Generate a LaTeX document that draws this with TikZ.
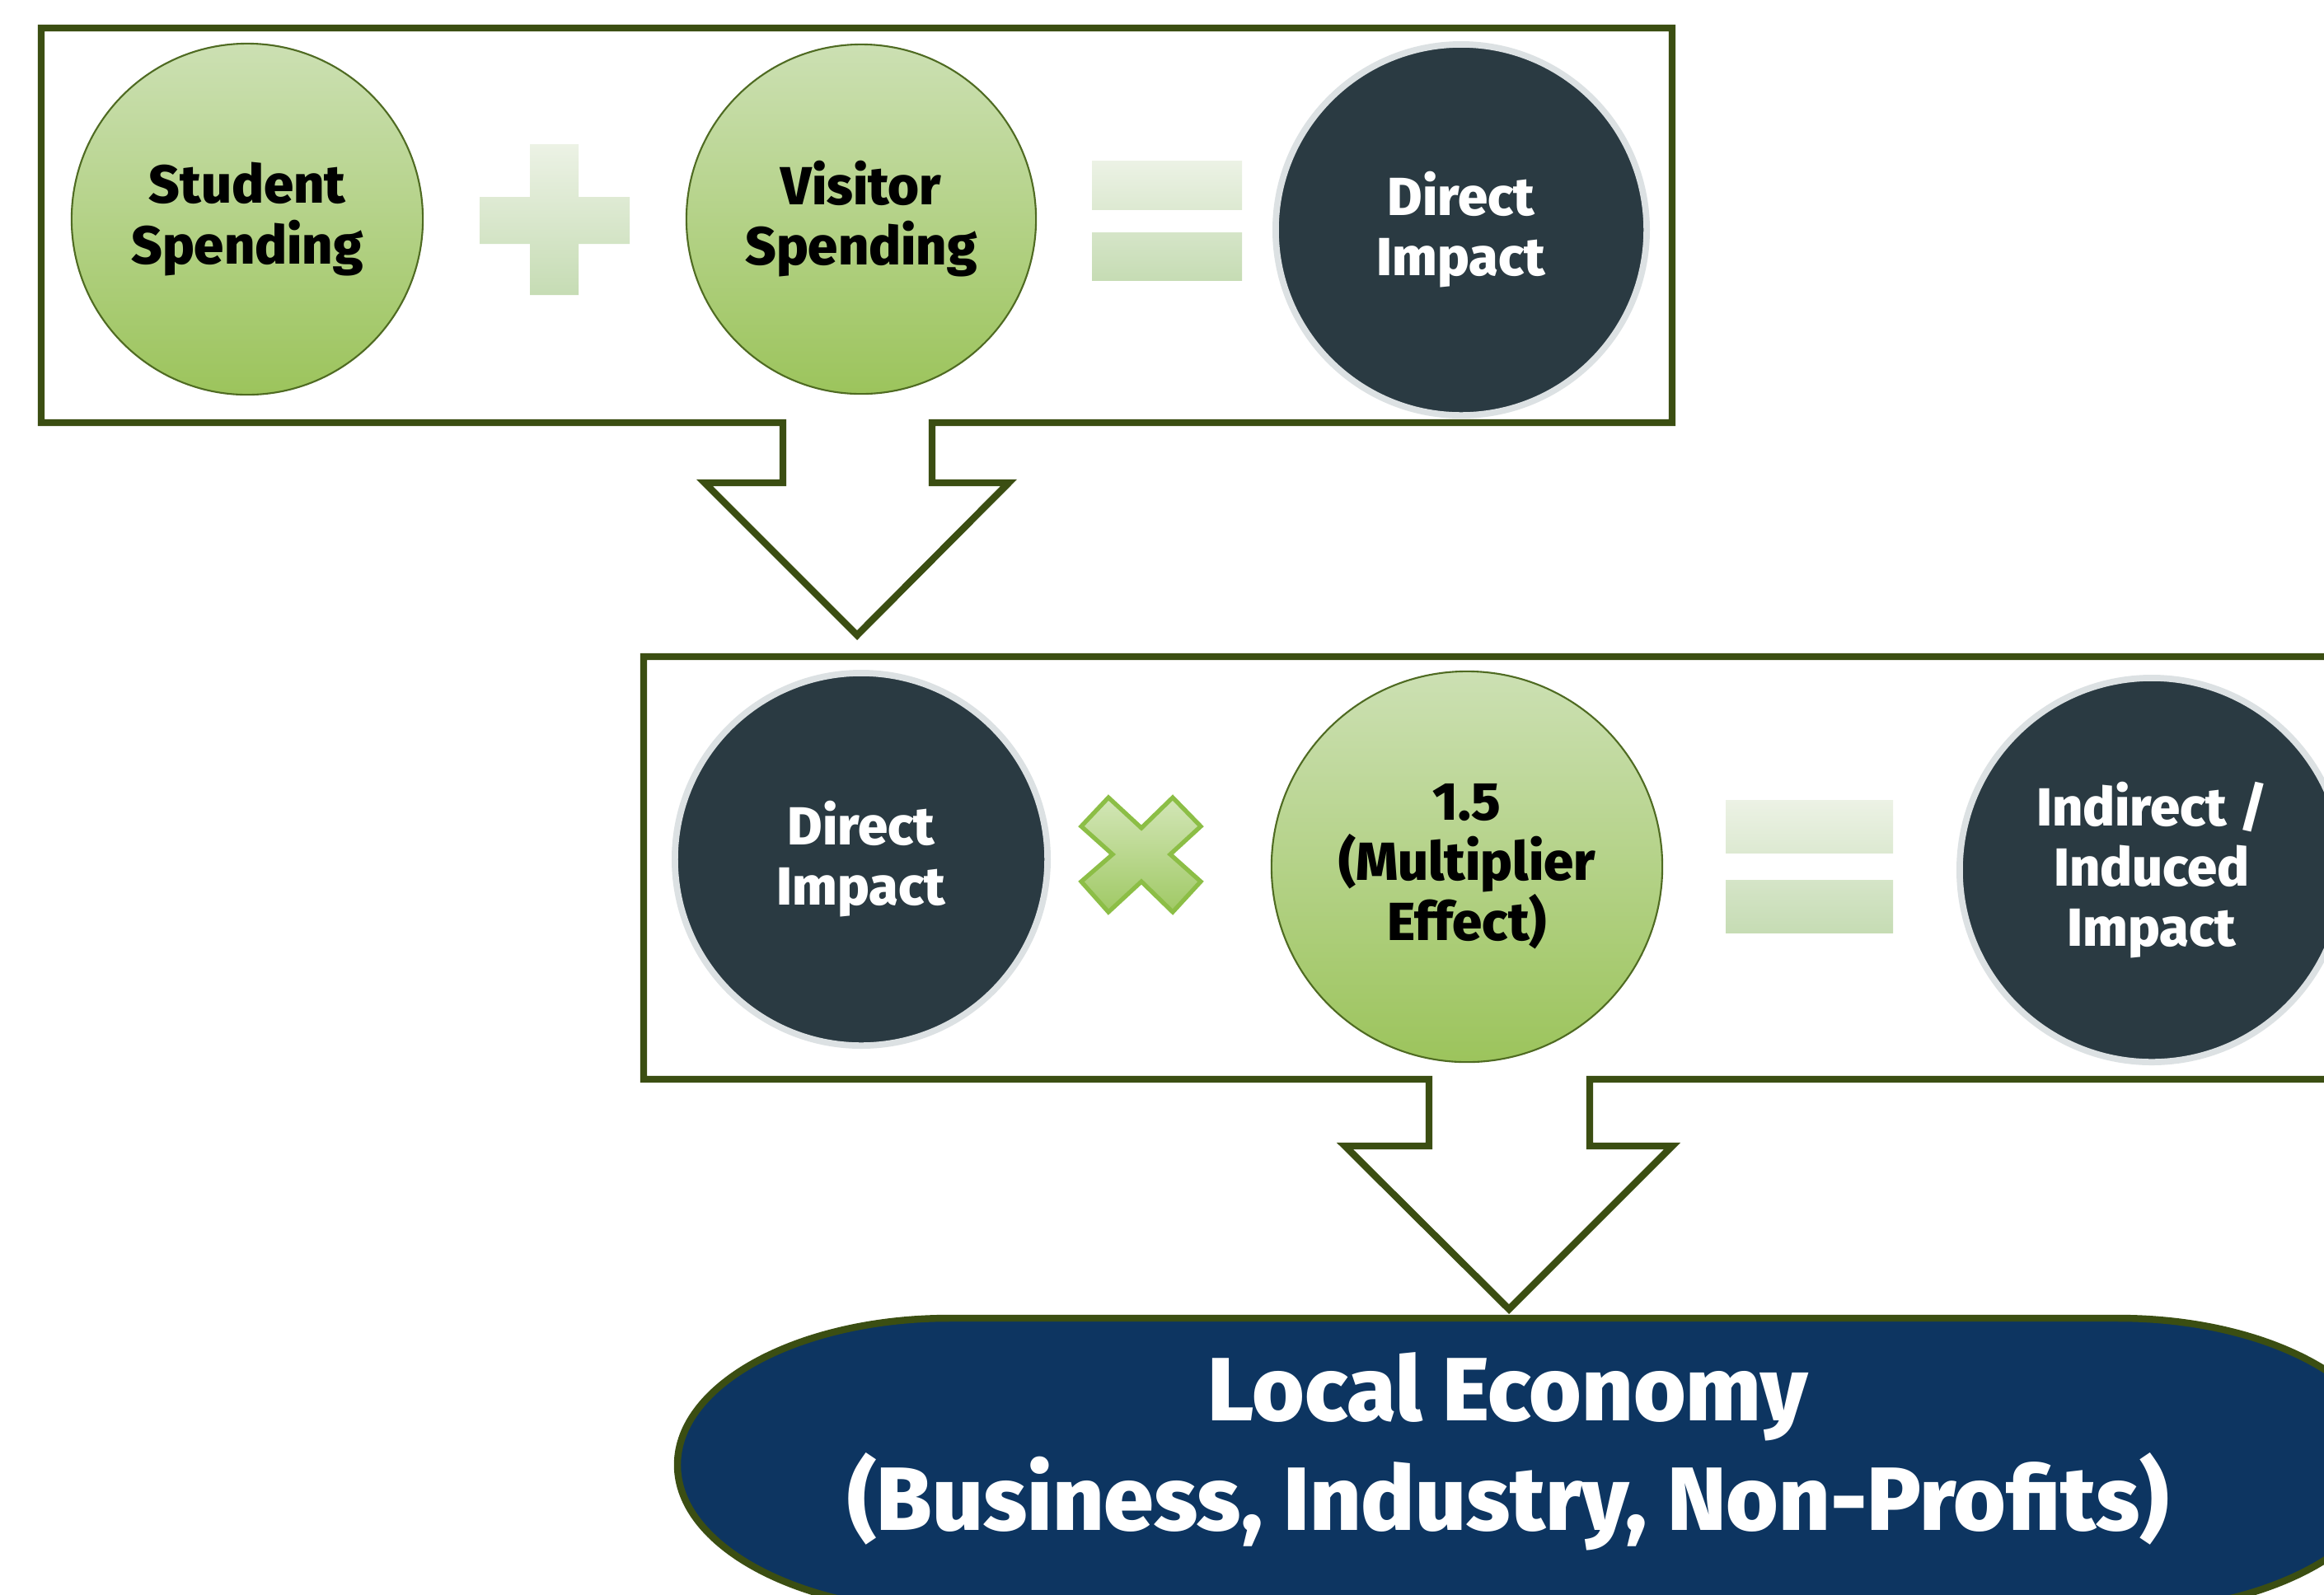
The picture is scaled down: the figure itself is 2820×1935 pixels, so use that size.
\documentclass[tikz,border=0pt]{standalone}
\usepackage{fontspec}
\setmainfont{Fira Sans}[BoldFont={Fira Sans ExtraBold}]
\definecolor{boxc}{HTML}{3B4E12}
\definecolor{gtop}{HTML}{CCE0B3}
\definecolor{gbot}{HTML}{9CC45C}
\definecolor{gline}{HTML}{4F6B22}
\definecolor{darkc}{HTML}{2A3A42}
\definecolor{haloc}{HTML}{DCE1E3}
\definecolor{ptop}{HTML}{ECF2E5}
\definecolor{pbot}{HTML}{C6DCB4}
\definecolor{xtop}{HTML}{D3E6B7}
\definecolor{xbot}{HTML}{A0C965}
\definecolor{xline}{HTML}{8CBE46}
\definecolor{navy}{HTML}{0D3561}
\tikzset{
  boxline/.style={draw=boxc, line width=2.4pt, line join=miter},
  greencirc/.style={circle, inner sep=0pt, minimum size=#1, top color=gtop, bottom color=gbot,
    draw=gline, line width=0.6pt, align=center, text=black,
    font=\fontsize{18.5}{20.8}\selectfont\bfseries},
  darkcirc/.style={circle, inner sep=0pt, minimum size=#1, fill=darkc,
    draw=haloc, line width=2.2pt, align=center, text=white,
    font=\fontsize{18.5}{20.8}\selectfont\bfseries},
}
\begin{document}
\begin{tikzpicture}[x=0.01cm, y=-0.01cm]
\useasboundingbox (0,0) rectangle (2820,1935);
\clip (0,0) rectangle (2820,1935);
\fill[white] (0,0) rectangle (2820,1935);

% top box with arrow
\draw[boxline] (950,513) -- (50,513) -- (50,34) -- (2029,34) -- (2029,513) -- (1131,513)
  -- (1131,586) -- (1224,586) -- (1040,771) -- (855,586) -- (950,586) -- cycle;

% second box with arrow
\draw[boxline] (1734,1310) -- (781,1310) -- (781,797) -- (2870,797) -- (2870,1310) -- (1929,1310)
  -- (1929,1391) -- (2029,1391) -- (1831,1589) -- (1632,1391) -- (1734,1391) -- cycle;

% row 1
\node[greencirc=4.26cm] (student) at (300,266) {Student\\Spending};
\node[greencirc=4.24cm] (visitor) at (1045,266) {Visitor\\Spending};
\node[darkcirc=4.50cm] (direct1) at (1773,279) {Direct\\Impact};

% plus sign
\shade[top color=ptop, bottom color=pbot] (643,175) -- (702,175) -- (702,239) -- (764,239)
  -- (764,296) -- (702,296) -- (702,358) -- (643,358) -- (643,296) -- (582,296)
  -- (582,239) -- (643,239) -- cycle;

% equals sign 1
\shade[top color=ptop, bottom color=ptop!60!pbot] (1325,195) rectangle (1507,254);
\shade[top color=ptop!40!pbot, bottom color=pbot] (1325,282) rectangle (1507,340);

% row 2
\node[darkcirc=4.52cm] (direct2) at (1045,1043) {Direct\\Impact};
\node[greencirc=4.74cm] (mult) at (1780,1052) {1.5\\(Multiplier\\Effect)};
\node[darkcirc=4.66cm] (indirect) at (2611,1056) {Indirect /\\Induced\\Impact};

% times sign
\draw[xline, line width=1.5pt, line join=miter, top color=xtop, bottom color=xbot]
  (1385,1005) -- (1423,968) -- (1457,1003) -- (1420,1037) -- (1457,1070) -- (1423,1107)
  -- (1385,1070) -- (1345,1107) -- (1312,1070) -- (1350,1037) -- (1312,1003) -- (1345,968) -- cycle;

% equals sign 2
\shade[top color=ptop, bottom color=ptop!60!pbot] (2094,971) rectangle (2297,1035);
\shade[top color=ptop!40!pbot, bottom color=pbot] (2094,1068) rectangle (2297,1132);

% local economy pill
\draw[fill=navy, draw=boxc, line width=2.4pt] (1152,1600) -- (2570,1600)
  arc[start angle=-90, end angle=90, x radius=330, y radius=178] -- (1152,1956)
  arc[start angle=90, end angle=270, x radius=330, y radius=178] -- cycle;
\node[align=center, text=white, font=\fontsize{31}{37.8}\selectfont\bfseries] (econ) at (1830,1762)
  {Local Economy\\(Business, Industry, Non-Profits)};
\end{tikzpicture}
\end{document}
